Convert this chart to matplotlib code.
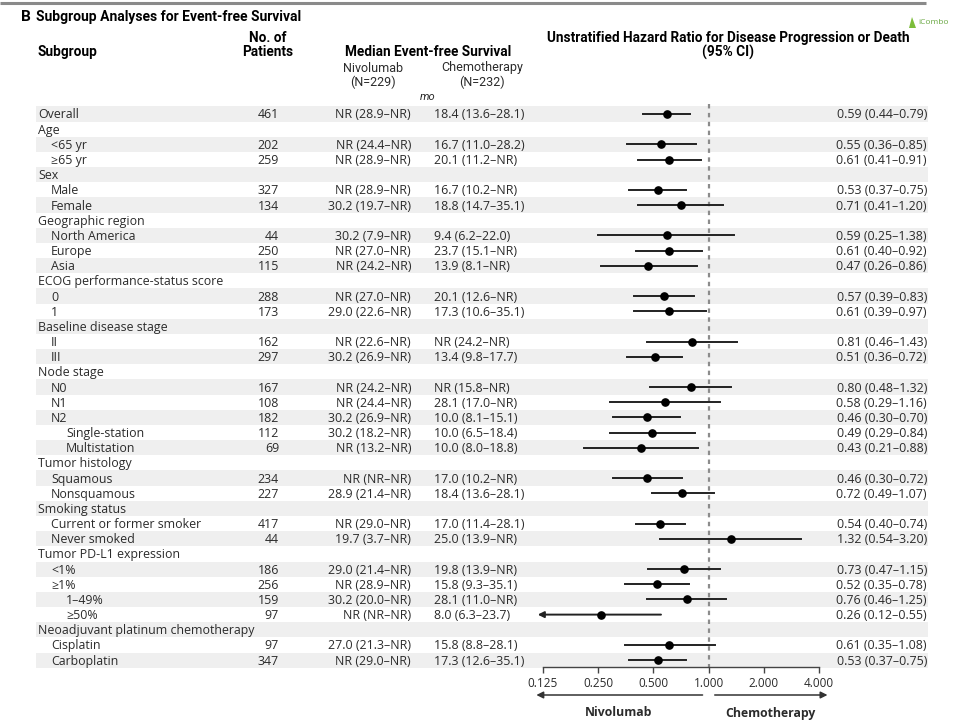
import matplotlib
matplotlib.use("Agg")
import matplotlib.pyplot as plt
import numpy as np

# ---------------- data ----------------
labels = ["Overall", "Age", "<65 yr", "≥65 yr", "Sex", "Male", "Female",
          "Geographic region", "North America", "Europe", "Asia",
          "ECOG performance-status score", "0", "1",
          "Baseline disease stage", "II", "III",
          "Node stage", "N0", "N1", "N2", "Single-station", "Multistation",
          "Tumor histology", "Squamous", "Nonsquamous",
          "Smoking status", "Current or former smoker", "Never smoked",
          "Tumor PD-L1 expression", "<1%", "≥1%", "1–49%", "≥50%",
          "Neoadjuvant platinum chemotherapy", "Cisplatin", "Carboplatin"]
levels = [0, 0, 1, 1, 0, 1, 1,
          0, 1, 1, 1,
          0, 1, 1,
          0, 1, 1,
          0, 1, 1, 1, 2, 2,
          0, 1, 1,
          0, 1, 1,
          0, 1, 1, 2, 2,
          0, 1, 1]
n_patients = ["461", "", "202", "259", "", "327", "134",
              "", "44", "250", "115",
              "", "288", "173",
              "", "162", "297",
              "", "167", "108", "182", "112", "69",
              "", "234", "227",
              "", "417", "44",
              "", "186", "256", "159", "97",
              "", "97", "347"]
nivo_median = ["NR (28.9–NR)", "", "NR (24.4–NR)", "NR (28.9–NR)", "", "NR (28.9–NR)", "30.2 (19.7–NR)",
               "", "30.2 (7.9–NR)", "NR (27.0–NR)", "NR (24.2–NR)",
               "", "NR (27.0–NR)", "29.0 (22.6–NR)",
               "", "NR (22.6–NR)", "30.2 (26.9–NR)",
               "", "NR (24.2–NR)", "NR (24.4–NR)", "30.2 (26.9–NR)", "30.2 (18.2–NR)", "NR (13.2–NR)",
               "", "NR (NR–NR)", "28.9 (21.4–NR)",
               "", "NR (29.0–NR)", "19.7 (3.7–NR)",
               "", "29.0 (21.4–NR)", "NR (28.9–NR)", "30.2 (20.0–NR)", "NR (NR–NR)",
               "", "27.0 (21.3–NR)", "NR (29.0–NR)"]
chemo_median = ["18.4 (13.6–28.1)", "", "16.7 (11.0–28.2)", "20.1 (11.2–NR)", "", "16.7 (10.2–NR)", "18.8 (14.7–35.1)",
                "", "9.4 (6.2–22.0)", "23.7 (15.1–NR)", "13.9 (8.1–NR)",
                "", "20.1 (12.6–NR)", "17.3 (10.6–35.1)",
                "", "NR (24.2–NR)", "13.4 (9.8–17.7)",
                "", "NR (15.8–NR)", "28.1 (17.0–NR)", "10.0 (8.1–15.1)", "10.0 (6.5–18.4)", "10.0 (8.0–18.8)",
                "", "17.0 (10.2–NR)", "18.4 (13.6–28.1)",
                "", "17.0 (11.4–28.1)", "25.0 (13.9–NR)",
                "", "19.8 (13.9–NR)", "15.8 (9.3–35.1)", "28.1 (11.0–NR)", "8.0 (6.3–23.7)",
                "", "15.8 (8.8–28.1)", "17.3 (12.6–35.1)"]
hr = [0.59, None, 0.55, 0.61, None, 0.53, 0.71,
      None, 0.59, 0.61, 0.47,
      None, 0.57, 0.61,
      None, 0.81, 0.51,
      None, 0.80, 0.58, 0.46, 0.49, 0.43,
      None, 0.46, 0.72,
      None, 0.54, 1.32,
      None, 0.73, 0.52, 0.76, 0.26,
      None, 0.61, 0.53]
hr_lo = [0.44, None, 0.36, 0.41, None, 0.37, 0.41,
         None, 0.25, 0.40, 0.26,
         None, 0.39, 0.39,
         None, 0.46, 0.36,
         None, 0.48, 0.29, 0.30, 0.29, 0.21,
         None, 0.30, 0.49,
         None, 0.40, 0.54,
         None, 0.47, 0.35, 0.46, 0.12,
         None, 0.35, 0.37]
hr_hi = [0.79, None, 0.85, 0.91, None, 0.75, 1.20,
         None, 1.38, 0.92, 0.86,
         None, 0.83, 0.97,
         None, 1.43, 0.72,
         None, 1.32, 1.16, 0.70, 0.84, 0.88,
         None, 0.72, 1.07,
         None, 0.74, 3.20,
         None, 1.15, 0.78, 1.25, 0.55,
         None, 1.08, 0.75]
xticks = [0.125, 0.25, 0.5, 1.0, 2.0, 4.0]
xtick_labels = ["0.125", "0.250", "0.500", "1.000", "2.000", "4.000"]

# ---------------- layout ----------------
W, H = 960, 720
fig = plt.figure(figsize=(9.6, 7.2), dpi=100)
body = ['Open Sans', 'DejaVu Sans']
head = ['Roboto', 'DejaVu Sans']
tc = '#2b2b2b'
fs = 8.9

ax = fig.add_axes([0, 0, 1, 1])
ax.set_xlim(0, W)
ax.set_ylim(H, 0)
ax.axis('off')

y0, dy = 114.0, 15.17
ys = [y0 + i * dy for i in range(len(labels))]

# bands
for i, y in enumerate(ys):
    if i % 2 == 0:
        ax.add_patch(plt.Rectangle((36, y - dy / 2), 892, dy, color='#efefef', lw=0, zorder=0))

# top rule
ax.plot([0, 926], [3, 3], color='#8a8a8a', lw=2.2, solid_capstyle='butt')

# title
ax.text(21, 17, "B", fontsize=11, fontweight='bold', family=head, va='center', color='black')
ax.text(36, 17, "Subgroup Analyses for Event-free Survival", fontsize=10, fontweight='bold',
        family=head, va='center', color='black')
ax.text(918, 22, "iCombo", fontsize=6, color='#6aa843', va='center', ha='left', family=body)
ax.add_patch(plt.Polygon([[909, 28], [912, 17], [916, 28]], color='#7cbd3a', lw=0))

# column headers
hkw = dict(fontsize=9.8, fontweight='bold', family=head, color='black', va='center')
ax.text(38, 52, "Subgroup", ha='left', **hkw)
ax.text(268, 38, "No. of", ha='center', **hkw)
ax.text(268, 52, "Patients", ha='center', **hkw)
ax.text(428, 52, "Median Event-free Survival", ha='center', **hkw)
ax.text(728, 38, "Unstratified Hazard Ratio for Disease Progression or Death", ha='center', **hkw)
ax.text(728, 52, "(95% CI)", ha='center', **hkw)
skw = dict(fontsize=9, family=head, color=tc, va='center', ha='center')
ax.text(373, 68, "Nivolumab", **skw)
ax.text(373, 82, "(N=229)", **skw)
ax.text(482, 68, "Chemotherapy", **skw)
ax.text(482, 82, "(N=232)", **skw)
ax.text(428, 97, "mo", fontsize=8, style='italic', family=head, color=tc, va='center', ha='center')

indent = {0: 38, 1: 51, 2: 66}
tkw = dict(fontsize=fs, family=body, color=tc, va='center')
for i, y in enumerate(ys):
    yt = y + 1
    ax.text(indent[levels[i]], yt, labels[i], ha='left', **tkw)
    if n_patients[i]:
        ax.text(279, yt, n_patients[i], ha='right', **tkw)
        ax.text(411, yt, nivo_median[i], ha='right', **tkw)
        ax.text(434, yt, chemo_median[i], ha='left', **tkw)
        ax.text(927, yt, f"{hr[i]:.2f} ({hr_lo[i]:.2f}–{hr_hi[i]:.2f})", ha='right', **tkw)

ax.text(619, 713, "Nivolumab", fontsize=8.8, fontweight='bold', family=body, color=tc, ha='center', va='center')
ax.text(770, 713, "Chemotherapy", fontsize=8.8, fontweight='bold', family=body, color=tc, ha='center', va='center')

# ---------------- forest axes ----------------
fx0, fx1 = 543, 819
fa = fig.add_axes([fx0 / W, 0, (fx1 - fx0) / W, 1])
fa.patch.set_alpha(0)
fa.set_xscale('log', base=2)
fa.set_xlim(0.125, 4.0)
fa.set_ylim(H, 0)
for s in ['top', 'left', 'right']:
    fa.spines[s].set_visible(False)
fa.spines['bottom'].set_position(('data', 667))
fa.spines['bottom'].set_color('#444444')
fa.spines['bottom'].set_linewidth(1.0)
fa.set_yticks([])
fa.set_xticks(xticks)
fa.set_xticklabels(xtick_labels, family=body, fontsize=8.5, color=tc)
fa.minorticks_off()
fa.tick_params(axis='x', direction='out', length=4, width=1.0, color='#444444', pad=3)

fa.plot([1, 1], [104, 667], ls=(0, (2, 2)), color='#8c8c8c', lw=1.6, zorder=1)

arrow_min = 0.125
for i, y in enumerate(ys):
    if hr[i] is None:
        continue
    lo = hr_lo[i]
    if lo < arrow_min:
        fa.annotate("", xy=(0.117, y), xytext=(hr_hi[i], y),
                    arrowprops=dict(arrowstyle='-|>', color='#222222', lw=1.4,
                                    mutation_scale=9, shrinkA=0, shrinkB=0),
                    annotation_clip=False, zorder=3)
    else:
        fa.plot([lo, hr_hi[i]], [y, y], color='#222222', lw=1.4, zorder=3, clip_on=False)
    fa.plot(hr[i], y, 'o', color='black', ms=5.2, zorder=4, clip_on=False)

arr = dict(arrowstyle='-|>', color='#333333', lw=1.1, mutation_scale=10, shrinkA=0, shrinkB=0)
fa.annotate("", xy=(0.115, 695), xytext=(0.927, 695), arrowprops=arr, annotation_clip=False)
fa.annotate("", xy=(4.45, 695), xytext=(1.08, 695), arrowprops=arr, annotation_clip=False)

fig.savefig("out.png", dpi=100)
